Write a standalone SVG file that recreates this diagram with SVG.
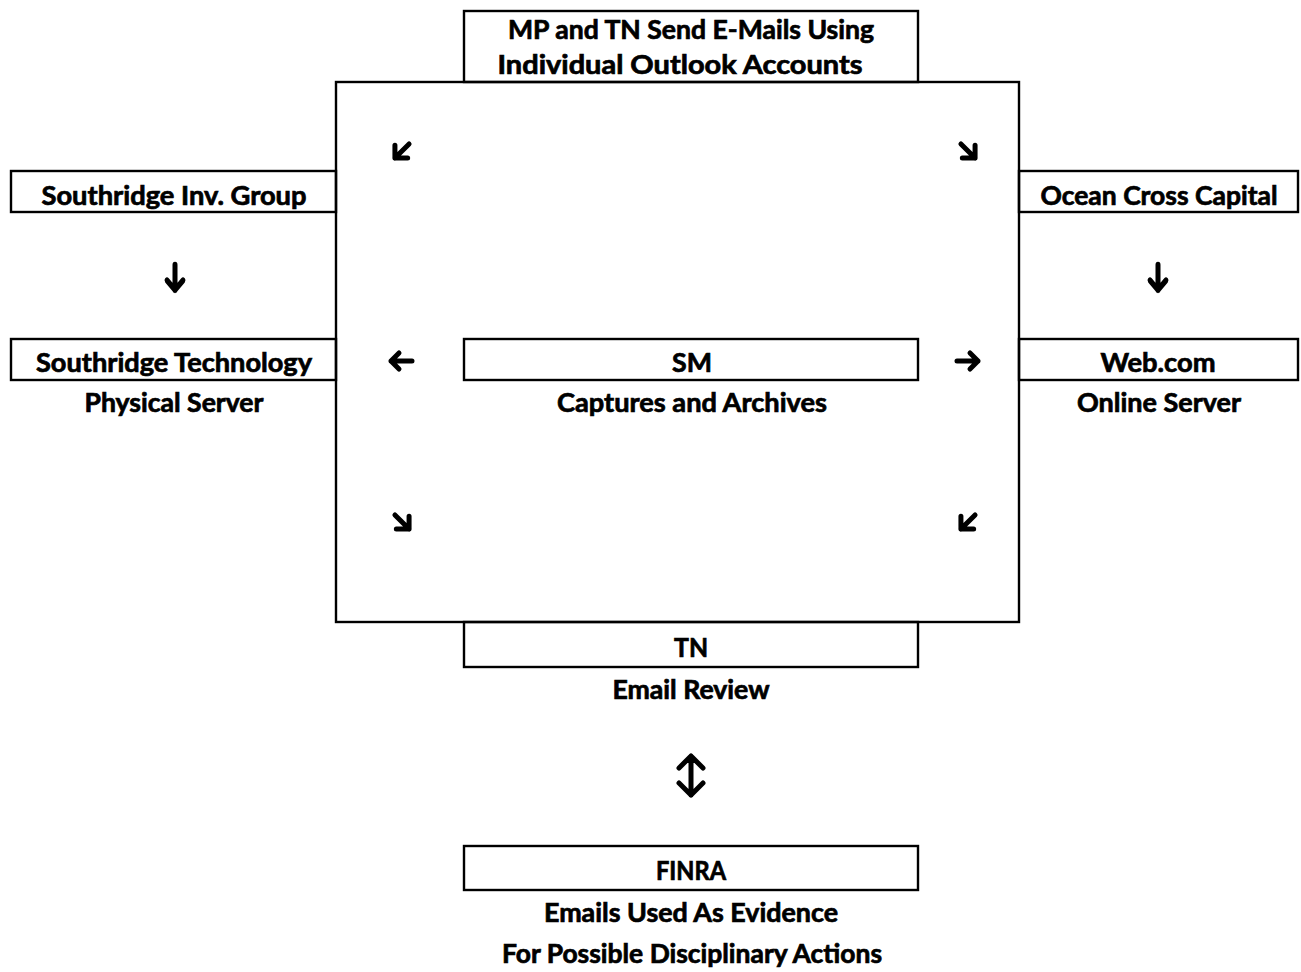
<svg xmlns="http://www.w3.org/2000/svg" width="1301" height="972" viewBox="0 0 1301 972">
<defs>
<style>
.box{fill:none;stroke:#000;stroke-width:2.4}
.t{font-family:Lato,"Open Sans","Liberation Sans",sans-serif;font-weight:700;font-size:26px;fill:#000;stroke:#000;stroke-width:0.7;text-anchor:middle}
.arr{fill:none;stroke:#000;stroke-width:5;stroke-linecap:round;stroke-linejoin:round}
</style>
<g id="arrowR">
<path class="arr" d="M-11,0 H10 M2,-8 L10,0 L2,8"/>
</g>
<g id="arrowDiag">
<path class="arr" d="M-10,0 H10 M1,-9 L10,0 L1,9"/>
</g>
</defs>
<rect width="1301" height="972" fill="#fff"/>

<g id="frame">
<rect class="box" x="336" y="82" width="683" height="540"/>
</g>

<g id="node-top">
<rect class="box" x="464" y="11" width="454" height="71" fill="#fff"/>
<text class="t" x="691" y="39" textLength="366" lengthAdjust="spacingAndGlyphs">MP and TN Send E-Mails Using</text>
<text class="t" x="680" y="74" textLength="365" lengthAdjust="spacingAndGlyphs">Individual Outlook Accounts</text>
</g>

<g id="node-sig">
<rect class="box" x="11" y="171" width="325" height="41"/>
<text class="t" x="174" y="205" textLength="265" lengthAdjust="spacingAndGlyphs">Southridge Inv. Group</text>
</g>

<g id="node-st">
<rect class="box" x="11" y="339" width="325" height="41"/>
<text class="t" x="174" y="372" textLength="276" lengthAdjust="spacingAndGlyphs">Southridge Technology</text>
<text class="t" x="174" y="412" textLength="179" lengthAdjust="spacingAndGlyphs">Physical Server</text>
</g>

<g id="node-sm">
<rect class="box" x="464" y="339" width="454" height="41"/>
<text class="t" x="692" y="372" textLength="40" lengthAdjust="spacingAndGlyphs">SM</text>
<text class="t" x="692" y="412" textLength="270" lengthAdjust="spacingAndGlyphs">Captures and Archives</text>
</g>

<g id="node-occ">
<rect class="box" x="1019" y="171" width="279" height="41"/>
<text class="t" x="1159" y="205" textLength="237" lengthAdjust="spacingAndGlyphs">Ocean Cross Capital</text>
</g>

<g id="node-web">
<rect class="box" x="1019" y="339" width="279" height="41"/>
<text class="t" x="1158" y="372" textLength="115" lengthAdjust="spacingAndGlyphs">Web.com</text>
<text class="t" x="1159" y="412" textLength="164" lengthAdjust="spacingAndGlyphs">Online Server</text>
</g>

<g id="node-tn">
<rect class="box" x="464" y="622" width="454" height="45" fill="#fff"/>
<text class="t" x="691" y="657" textLength="34" lengthAdjust="spacingAndGlyphs">TN</text>
<text class="t" x="691" y="699" textLength="157" lengthAdjust="spacingAndGlyphs">Email Review</text>
</g>

<g id="node-finra">
<rect class="box" x="464" y="846" width="454" height="44"/>
<text class="t" x="691" y="880" textLength="70" lengthAdjust="spacingAndGlyphs">FINRA</text>
<text class="t" x="691" y="922" textLength="294" lengthAdjust="spacingAndGlyphs">Emails Used As Evidence</text>
<text class="t" x="692" y="963" textLength="380" lengthAdjust="spacingAndGlyphs">For Possible Disciplinary Actions</text>
</g>

<g id="connectors">
<use href="#arrowDiag" transform="translate(402,151) rotate(135)"/>
<use href="#arrowDiag" transform="translate(968,151) rotate(45)"/>
<use href="#arrowDiag" transform="translate(402,522) rotate(45)"/>
<use href="#arrowDiag" transform="translate(968,522) rotate(135)"/>
<use href="#arrowR" transform="translate(175,278) rotate(90) scale(1.2,1)"/>
<use href="#arrowR" transform="translate(1158,278) rotate(90) scale(1.2,1)"/>
<use href="#arrowR" transform="translate(401,361) rotate(180)"/>
<use href="#arrowR" transform="translate(968,361)"/>
<path class="arr" d="M691,756 V795 M679,768 L691,756 L703,768 M679,783 L691,795 L703,783" stroke-width="4.2"/>
</g>
</svg>
